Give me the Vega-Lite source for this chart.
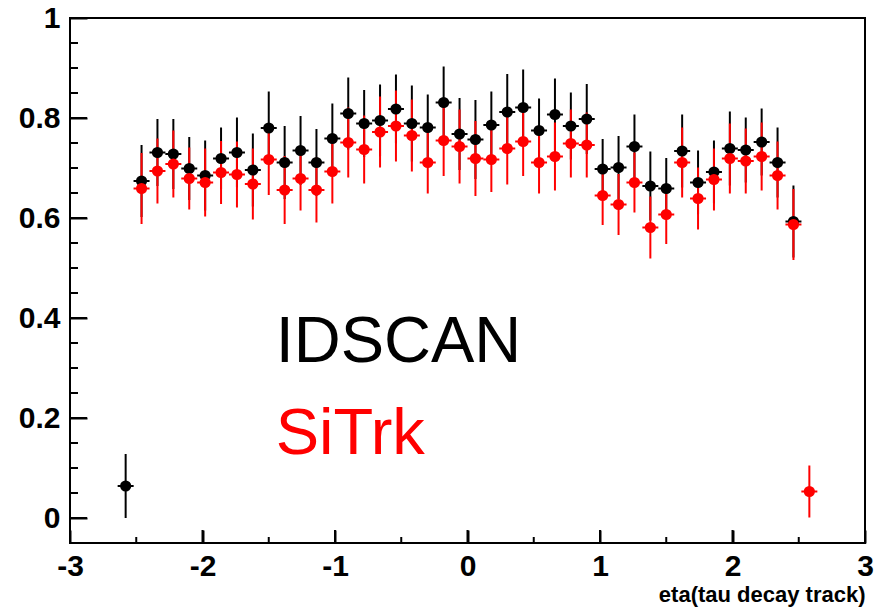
{
  "$schema": "https://vega.github.io/schema/vega-lite/v6.json",
  "width": 795,
  "height": 525,
  "autosize": "none",
  "padding": {"left": 70, "top": 18, "right": 16, "bottom": 67},
  "background": "white",
  "config": {
    "view": {"stroke": "#000", "strokeWidth": 2},
    "axis": {"domain": false, "grid": false, "tickColor": "#000", "tickWidth": 2, "tickOpacity": 1, "labelColor": "#000", "labelFont": "Liberation Sans", "labelFontWeight": "bold", "labelFontSize": 30, "labelFlush": false, "labelOverlap": false, "zindex": 1}
  },
  "resolve": {"axis": {"x": "independent", "y": "independent"}},
  "datasets": {
    "xMajor": [{"t": -3}, {"t": -2}, {"t": -1}, {"t": 0}, {"t": 1}, {"t": 2}, {"t": 3}],
    "xMinor": [{"t": -2.5}, {"t": -1.5}, {"t": -0.5}, {"t": 0.5}, {"t": 1.5}, {"t": 2.5}],
    "yMajor": [{"t": 0}, {"t": 0.2}, {"t": 0.4}, {"t": 0.6}, {"t": 0.8}, {"t": 1}],
    "yMinor": [{"t": -0.05}, {"t": 0.05}, {"t": 0.1}, {"t": 0.15}, {"t": 0.25}, {"t": 0.3}, {"t": 0.35}, {"t": 0.45}, {"t": 0.5}, {"t": 0.55}, {"t": 0.65}, {"t": 0.7}, {"t": 0.75}, {"t": 0.85}, {"t": 0.9}, {"t": 0.95}]
  },
  "data": {"values": [
    {"eta": -2.58, "alg": "IDSCAN", "eff": 0.064, "err": 0.064},
    {"eta": -2.46, "alg": "IDSCAN", "eff": 0.674, "err": 0.072},
    {"eta": -2.34, "alg": "IDSCAN", "eff": 0.731, "err": 0.067},
    {"eta": -2.22, "alg": "IDSCAN", "eff": 0.728, "err": 0.070},
    {"eta": -2.10, "alg": "IDSCAN", "eff": 0.699, "err": 0.063},
    {"eta": -1.98, "alg": "IDSCAN", "eff": 0.685, "err": 0.070},
    {"eta": -1.86, "alg": "IDSCAN", "eff": 0.719, "err": 0.062},
    {"eta": -1.74, "alg": "IDSCAN", "eff": 0.731, "err": 0.070},
    {"eta": -1.62, "alg": "IDSCAN", "eff": 0.696, "err": 0.073},
    {"eta": -1.50, "alg": "IDSCAN", "eff": 0.780, "err": 0.073},
    {"eta": -1.38, "alg": "IDSCAN", "eff": 0.711, "err": 0.073},
    {"eta": -1.26, "alg": "IDSCAN", "eff": 0.735, "err": 0.069},
    {"eta": -1.14, "alg": "IDSCAN", "eff": 0.711, "err": 0.067},
    {"eta": -1.02, "alg": "IDSCAN", "eff": 0.759, "err": 0.070},
    {"eta": -0.90, "alg": "IDSCAN", "eff": 0.809, "err": 0.072},
    {"eta": -0.78, "alg": "IDSCAN", "eff": 0.789, "err": 0.067},
    {"eta": -0.66, "alg": "IDSCAN", "eff": 0.795, "err": 0.072},
    {"eta": -0.54, "alg": "IDSCAN", "eff": 0.818, "err": 0.069},
    {"eta": -0.42, "alg": "IDSCAN", "eff": 0.789, "err": 0.076},
    {"eta": -0.30, "alg": "IDSCAN", "eff": 0.781, "err": 0.066},
    {"eta": -0.18, "alg": "IDSCAN", "eff": 0.831, "err": 0.072},
    {"eta": -0.06, "alg": "IDSCAN", "eff": 0.768, "err": 0.072},
    {"eta": 0.06, "alg": "IDSCAN", "eff": 0.757, "err": 0.079},
    {"eta": 0.18, "alg": "IDSCAN", "eff": 0.786, "err": 0.067},
    {"eta": 0.30, "alg": "IDSCAN", "eff": 0.812, "err": 0.076},
    {"eta": 0.42, "alg": "IDSCAN", "eff": 0.821, "err": 0.076},
    {"eta": 0.54, "alg": "IDSCAN", "eff": 0.775, "err": 0.064},
    {"eta": 0.66, "alg": "IDSCAN", "eff": 0.807, "err": 0.072},
    {"eta": 0.78, "alg": "IDSCAN", "eff": 0.784, "err": 0.067},
    {"eta": 0.90, "alg": "IDSCAN", "eff": 0.798, "err": 0.070},
    {"eta": 1.02, "alg": "IDSCAN", "eff": 0.698, "err": 0.060},
    {"eta": 1.14, "alg": "IDSCAN", "eff": 0.701, "err": 0.063},
    {"eta": 1.26, "alg": "IDSCAN", "eff": 0.743, "err": 0.064},
    {"eta": 1.38, "alg": "IDSCAN", "eff": 0.664, "err": 0.069},
    {"eta": 1.50, "alg": "IDSCAN", "eff": 0.659, "err": 0.061},
    {"eta": 1.62, "alg": "IDSCAN", "eff": 0.734, "err": 0.073},
    {"eta": 1.74, "alg": "IDSCAN", "eff": 0.671, "err": 0.064},
    {"eta": 1.86, "alg": "IDSCAN", "eff": 0.692, "err": 0.063},
    {"eta": 1.98, "alg": "IDSCAN", "eff": 0.739, "err": 0.074},
    {"eta": 2.10, "alg": "IDSCAN", "eff": 0.736, "err": 0.065},
    {"eta": 2.22, "alg": "IDSCAN", "eff": 0.752, "err": 0.067},
    {"eta": 2.34, "alg": "IDSCAN", "eff": 0.711, "err": 0.070},
    {"eta": 2.46, "alg": "IDSCAN", "eff": 0.593, "err": 0.072},
    {"eta": -2.46, "alg": "SiTrk", "eff": 0.659, "err": 0.071},
    {"eta": -2.34, "alg": "SiTrk", "eff": 0.694, "err": 0.065},
    {"eta": -2.22, "alg": "SiTrk", "eff": 0.708, "err": 0.067},
    {"eta": -2.10, "alg": "SiTrk", "eff": 0.679, "err": 0.062},
    {"eta": -1.98, "alg": "SiTrk", "eff": 0.671, "err": 0.068},
    {"eta": -1.86, "alg": "SiTrk", "eff": 0.691, "err": 0.063},
    {"eta": -1.74, "alg": "SiTrk", "eff": 0.687, "err": 0.066},
    {"eta": -1.62, "alg": "SiTrk", "eff": 0.668, "err": 0.071},
    {"eta": -1.50, "alg": "SiTrk", "eff": 0.717, "err": 0.071},
    {"eta": -1.38, "alg": "SiTrk", "eff": 0.656, "err": 0.068},
    {"eta": -1.26, "alg": "SiTrk", "eff": 0.679, "err": 0.064},
    {"eta": -1.14, "alg": "SiTrk", "eff": 0.656, "err": 0.065},
    {"eta": -1.02, "alg": "SiTrk", "eff": 0.693, "err": 0.064},
    {"eta": -0.90, "alg": "SiTrk", "eff": 0.751, "err": 0.070},
    {"eta": -0.78, "alg": "SiTrk", "eff": 0.737, "err": 0.068},
    {"eta": -0.66, "alg": "SiTrk", "eff": 0.772, "err": 0.071},
    {"eta": -0.54, "alg": "SiTrk", "eff": 0.784, "err": 0.071},
    {"eta": -0.42, "alg": "SiTrk", "eff": 0.765, "err": 0.072},
    {"eta": -0.30, "alg": "SiTrk", "eff": 0.711, "err": 0.062},
    {"eta": -0.18, "alg": "SiTrk", "eff": 0.755, "err": 0.071},
    {"eta": -0.06, "alg": "SiTrk", "eff": 0.743, "err": 0.074},
    {"eta": 0.06, "alg": "SiTrk", "eff": 0.719, "err": 0.075},
    {"eta": 0.18, "alg": "SiTrk", "eff": 0.717, "err": 0.065},
    {"eta": 0.30, "alg": "SiTrk", "eff": 0.739, "err": 0.072},
    {"eta": 0.42, "alg": "SiTrk", "eff": 0.753, "err": 0.069},
    {"eta": 0.54, "alg": "SiTrk", "eff": 0.711, "err": 0.062},
    {"eta": 0.66, "alg": "SiTrk", "eff": 0.723, "err": 0.068},
    {"eta": 0.78, "alg": "SiTrk", "eff": 0.749, "err": 0.068},
    {"eta": 0.90, "alg": "SiTrk", "eff": 0.746, "err": 0.065},
    {"eta": 1.02, "alg": "SiTrk", "eff": 0.645, "err": 0.059},
    {"eta": 1.14, "alg": "SiTrk", "eff": 0.627, "err": 0.061},
    {"eta": 1.26, "alg": "SiTrk", "eff": 0.671, "err": 0.060},
    {"eta": 1.38, "alg": "SiTrk", "eff": 0.581, "err": 0.062},
    {"eta": 1.50, "alg": "SiTrk", "eff": 0.607, "err": 0.059},
    {"eta": 1.62, "alg": "SiTrk", "eff": 0.711, "err": 0.070},
    {"eta": 1.74, "alg": "SiTrk", "eff": 0.639, "err": 0.062},
    {"eta": 1.86, "alg": "SiTrk", "eff": 0.677, "err": 0.062},
    {"eta": 1.98, "alg": "SiTrk", "eff": 0.719, "err": 0.070},
    {"eta": 2.10, "alg": "SiTrk", "eff": 0.714, "err": 0.065},
    {"eta": 2.22, "alg": "SiTrk", "eff": 0.723, "err": 0.068},
    {"eta": 2.34, "alg": "SiTrk", "eff": 0.685, "err": 0.068},
    {"eta": 2.46, "alg": "SiTrk", "eff": 0.587, "err": 0.071},
    {"eta": 2.58, "alg": "SiTrk", "eff": 0.053, "err": 0.052}
  ]},
  "encoding": {
    "color": {"field": "alg", "type": "nominal", "scale": {"domain": ["IDSCAN", "SiTrk"], "range": ["#000000", "#ff0000"]}, "legend": null}
  },
  "layer": [
    {
      "mark": {"type": "errorbar", "thickness": 2},
      "encoding": {
        "x": {"field": "eta", "type": "quantitative", "scale": {"domain": [-3, 3], "nice": false, "zero": false}, "axis": null},
        "y": {"field": "eff", "type": "quantitative", "scale": {"domain": [-0.05, 1], "nice": false, "zero": false}, "axis": null},
        "yError": {"field": "err"}
      }
    },
    {
      "mark": {"type": "rule", "strokeWidth": 2, "xOffset": -8, "x2Offset": 8},
      "encoding": {
        "x": {
          "field": "eta", "type": "quantitative",
          "scale": {"domain": [-3, 3], "nice": false, "zero": false},
          "axis": {
            "orient": "bottom",
            "values": [-3, -2, -1, 0, 1, 2, 3],
            "tickSize": -13,
            "labelPadding": 21,
            "labelExpr": "'' + datum.value",
            "title": "eta(tau decay track)",
            "titleFont": "Liberation Sans", "titleFontWeight": "bold", "titleFontSize": 22, "titleColor": "#000",
            "titleAnchor": "end", "titleAlign": "right", "titleX": 795, "titleY": 58, "titleBaseline": "alphabetic"
          }
        },
        "x2": {"field": "eta"},
        "y": {
          "field": "eff", "type": "quantitative",
          "scale": {"domain": [-0.05, 1], "nice": false, "zero": false},
          "axis": {
            "orient": "left",
            "values": [0, 0.2, 0.4, 0.6, 0.8, 1],
            "tickSize": -17,
            "labelPadding": 27,
            "labelExpr": "'' + datum.value",
            "title": null
          }
        }
      }
    },
    {
      "mark": {"type": "point", "filled": true, "shape": "circle", "size": 125, "opacity": 1},
      "encoding": {
        "x": {"field": "eta", "type": "quantitative", "axis": null},
        "y": {"field": "eff", "type": "quantitative", "axis": null}
      }
    },
    {
      "data": {"values": [
        {"eta": -1.448, "eff": 0.3126, "alg": "IDSCAN", "label": "IDSCAN"},
        {"eta": -1.448, "eff": 0.129, "alg": "SiTrk", "label": "SiTrk"}
      ]},
      "mark": {"type": "text", "align": "left", "baseline": "alphabetic", "font": "Liberation Sans", "fontSize": 65},
      "encoding": {
        "x": {"field": "eta", "type": "quantitative", "axis": null},
        "y": {"field": "eff", "type": "quantitative", "axis": null},
        "text": {"field": "label"}
      }
    },
    {
      "data": {"name": "xMajor"},
      "mark": {"type": "rule", "strokeWidth": 2, "y2Offset": -13},
      "encoding": {
        "x": {"field": "t", "type": "quantitative", "axis": null},
        "y": {"datum": -0.05, "type": "quantitative", "axis": null},
        "y2": {"datum": -0.05},
        "color": {"value": "#000"}
      }
    },
    {
      "data": {"name": "xMinor"},
      "mark": {"type": "rule", "strokeWidth": 2, "y2Offset": -6},
      "encoding": {
        "x": {"field": "t", "type": "quantitative", "axis": null},
        "y": {"datum": -0.05, "type": "quantitative", "axis": null},
        "y2": {"datum": -0.05},
        "color": {"value": "#000"}
      }
    },
    {
      "data": {"name": "yMajor"},
      "mark": {"type": "rule", "strokeWidth": 2, "x2Offset": 17},
      "encoding": {
        "y": {"field": "t", "type": "quantitative", "axis": null},
        "x": {"datum": -3, "type": "quantitative", "axis": null},
        "x2": {"datum": -3},
        "color": {"value": "#000"}
      }
    },
    {
      "data": {"name": "yMinor"},
      "mark": {"type": "rule", "strokeWidth": 2, "x2Offset": 8},
      "encoding": {
        "y": {"field": "t", "type": "quantitative", "axis": null},
        "x": {"datum": -3, "type": "quantitative", "axis": null},
        "x2": {"datum": -3},
        "color": {"value": "#000"}
      }
    }
  ]
}
